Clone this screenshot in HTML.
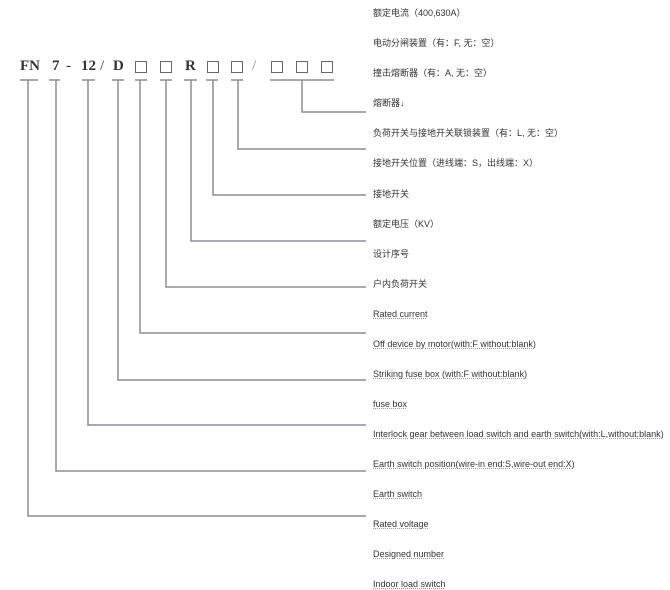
<!DOCTYPE html>
<html><head><meta charset="utf-8"><style>
body{margin:0;width:670px;height:589px;background:#fff;position:relative;overflow:hidden;font-family:"Liberation Sans","Noto Sans CJK SC",sans-serif}
.t{position:absolute;left:373px;font-size:9px;color:#333;line-height:12px;white-space:nowrap}
.e{text-decoration:underline dotted #999}
.h{position:absolute;top:58px;font-family:"Liberation Serif","Noto Serif CJK SC",serif;font-size:15px;font-weight:bold;color:#333}
.b{position:absolute;top:61px;width:10px;height:10px;border:1px solid #666}
</style></head><body>
<svg width="670" height="589" style="position:absolute;left:0;top:0">
<g stroke="#8a8d96" stroke-width="1.5" fill="none">
<path d="M20 80H38M49 80H60M82 80H95M112 80H124M135 80H147M160 80H172M184 80H197M206 80H218M231 80H243M270 80H334"/>
<path d="M302 80V112H366"/>
<path d="M238 80V149H366"/>
<path d="M213 80V195H366"/>
<path d="M191 80V241H366"/>
<path d="M166 80V287H366"/>
<path d="M140 80V333H366"/>
<path d="M118 80V380H366"/>
<path d="M88 80V425H366"/>
<path d="M56 80V471H366"/>
<path d="M28 80V516H366"/>
</g></svg>
<div class="h" style="left:20px">FN</div>
<div class="h" style="left:52px">7</div>
<div class="h" style="left:66px;font-weight:normal">-</div>
<div class="h" style="left:81px">12</div>
<div class="h" style="left:100px;font-weight:normal">/</div>
<div class="h" style="left:113px">D</div>
<div class="b" style="left:135px"></div>
<div class="b" style="left:160px"></div>
<div class="h" style="left:185px">R</div>
<div class="b" style="left:207px"></div>
<div class="b" style="left:231px"></div>
<div class="h" style="left:252px;font-weight:normal;color:#888">/</div>
<div class="b" style="left:271px"></div>
<div class="b" style="left:296px"></div>
<div class="b" style="left:321px"></div>
<div class="t" style="top:7px">额定电流（400,630A）</div>
<div class="t" style="top:37px">电动分闸装置（有：F, 无：空）</div>
<div class="t" style="top:67px">撞击熔断器（有：A, 无：空）</div>
<div class="t" style="top:97px">熔断器↓</div>
<div class="t" style="top:127px">负荷开关与接地开关联锁装置（有：L, 无：空）</div>
<div class="t" style="top:157px">接地开关位置（进线端：S，出线端：X）</div>
<div class="t" style="top:188px">接地开关</div>
<div class="t" style="top:218px">额定电压（KV）</div>
<div class="t" style="top:248px">设计序号</div>
<div class="t" style="top:278px">户内负荷开关</div>
<div class="t e" style="top:308px">Rated current</div>
<div class="t e" style="top:338px">Off device by motor(with:F without:blank)</div>
<div class="t e" style="top:368px">Striking fuse box (with:F without:blank)</div>
<div class="t e" style="top:398px">fuse box</div>
<div class="t e" style="top:428px">Interlock gear between load switch and earth switch(with:L,without:blank)</div>
<div class="t e" style="top:458px">Earth switch position(wire-in end:S,wire-out end:X)</div>
<div class="t e" style="top:488px">Earth switch</div>
<div class="t e" style="top:518px">Rated voltage</div>
<div class="t e" style="top:548px">Designed number</div>
<div class="t e" style="top:578px">Indoor load switch</div>
</body></html>
